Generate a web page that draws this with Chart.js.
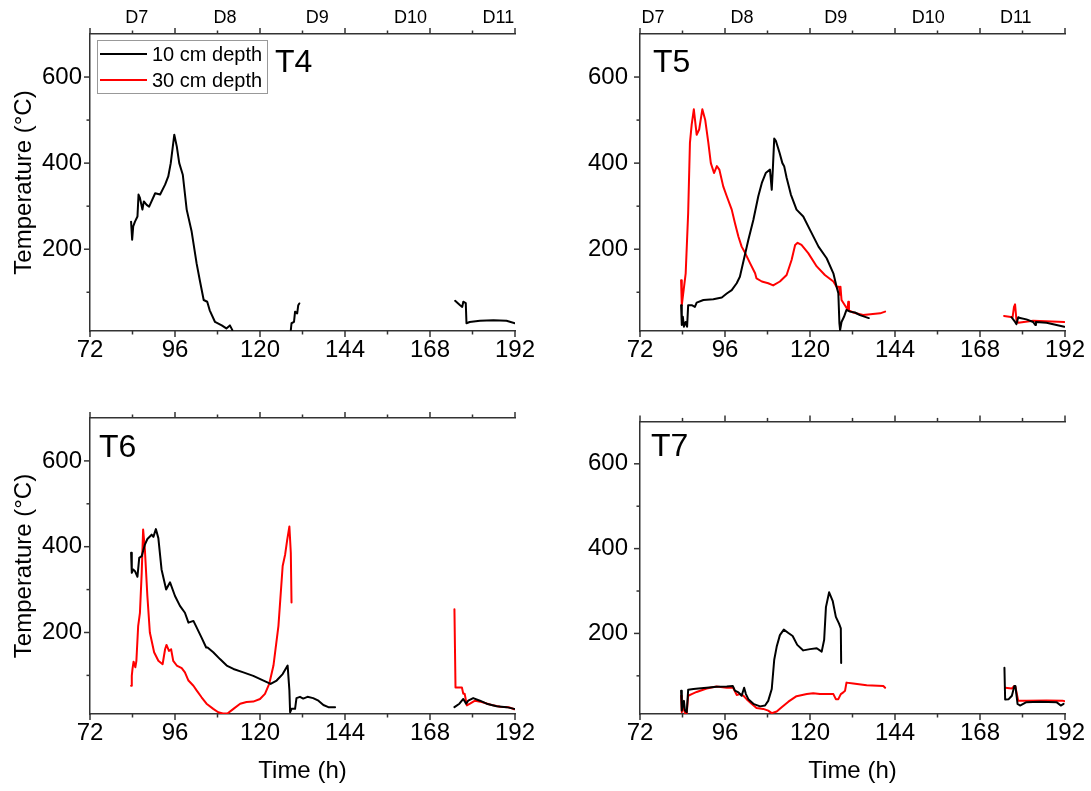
<!DOCTYPE html>
<html><head><meta charset="utf-8">
<script src="https://cdn.jsdelivr.net/npm/chart.js@4/dist/chart.umd.min.js"></script>
<style>
html,body{margin:0;padding:0;background:#fff;width:1091px;height:791px;overflow:hidden}
canvas{position:absolute}
</style></head><body>
<canvas id="c4" width="545" height="395" style="left:0;top:0;width:545px;height:395px"></canvas>
<canvas id="c5" width="546" height="395" style="left:545px;top:0;width:546px;height:395px"></canvas>
<canvas id="c6" width="545" height="396" style="left:0;top:395px;width:545px;height:396px"></canvas>
<canvas id="c7" width="546" height="396" style="left:545px;top:395px;width:546px;height:396px"></canvas>
<script>
// ---------- tick values ----------
const xMajorTicks = [72, 96, 120, 144, 168, 192];
const xMinorTicks = [84, 108, 132, 156, 180];
const yMajorTicks = [200, 400, 600];
const yMinorTicks = [100, 300, 500];
const dayLabels = ['D7', 'D8', 'D9', 'D10', 'D11'];
const dayPosT4 = [85.2, 110.1, 136.2, 162.5, 187.3];
const dayPosT5 = [75.7, 100.8, 127.3, 153.4, 178.1];
const seriesLabels = ['10 cm depth', '30 cm depth'];

// ---------- T4 ----------
const t4_10_time = [83.6, 83.9, 84.2, 84.7, 85.4, 85.7, 86.1, 86.8, 87.2, 88.0, 88.7, 90.4, 91.8, 93.2, 94.1, 94.8, 95.8, 96.5, 97.2, 98.2, 99.3, 100.7, 102.1, 103.0, 104.1, 105.1, 105.8, 107.3, 109.2, 110.5, 111.5, 112.2, 120, 128.7, 128.9, 129.6, 129.9, 130.5, 130.8, 131.1, 150, 175.1, 176.5, 177.1, 177.4, 178.1, 178.3, 179.2, 182.1, 185.9, 189.6, 192];
const t4_10_temp = [264, 222, 253, 264, 276, 327, 319, 292, 311, 303, 299, 330, 327, 350, 369, 400, 466, 439, 400, 373, 292, 241, 167, 128, 82, 78, 58, 31, 23, 16, 23, 12, null, 12, 28, 31, 55, 51, 70, 74, null, 80, 70, 66, 78, 75, 28, 31, 34, 35, 34, 28];
const t4_30_time = [];
const t4_30_temp = [];

// ---------- T5 ----------
const t5_10_time = [83.6, 83.8, 84.1, 84.4, 84.9, 85.3, 85.6, 86.6, 87.5, 88.0, 89.9, 92.7, 95.1, 96.5, 97.9, 99.3, 100.2, 101.4, 102.6, 104.0, 105.4, 106.4, 107.5, 108.7, 109.2, 109.5, 109.9, 110.4, 111.4, 112.2, 112.7, 113.4, 114.6, 116.2, 118.1, 120.0, 122.4, 124.7, 126.6, 127.5, 128.0, 128.3, 128.5, 128.9, 129.6, 130.3, 131.3, 132.7, 134.1, 136.6, 160, 176.9, 177.9, 178.3, 178.8, 179.3, 181.1, 183.0, 183.6, 183.8, 186.8, 189.6, 191.8];
const t5_10_temp = [70, 24, 43, 20, 31, 20, 70, 70, 66, 76, 82, 84, 88, 97, 105, 121, 136, 179, 222, 268, 323, 354, 377, 385, 338, 385, 457, 451, 424, 400, 393, 366, 327, 292, 276, 245, 206, 179, 144, 113, 98, 28, 12, 31, 43, 59, 55, 53, 47, 40, null, 42, 31, 26, 42, 40, 37, 31, 24, 31, 29, 24, 20];
const t5_30_time = [83.6, 83.8, 84.2, 84.9, 85.6, 86.1, 86.6, 87.2, 88.0, 88.7, 89.6, 90.4, 91.3, 92.0, 92.9, 93.7, 94.4, 95.5, 96.5, 97.9, 98.8, 99.8, 100.7, 101.7, 103.1, 104.5, 104.9, 106.4, 108.2, 109.6, 111.5, 113.4, 114.8, 115.8, 116.5, 117.6, 119.5, 121.9, 124.2, 126.6, 127.5, 128.2, 128.5, 128.6, 128.9, 130.6, 130.8, 131.0, 132.2, 135.0, 139.8, 141.2, 160, 174.8, 177.2, 177.6, 177.9, 178.3, 178.8, 183.0, 191.8];
const t5_30_temp = [128, 70, 97, 144, 284, 447, 490, 525, 466, 478, 525, 501, 447, 400, 377, 393, 385, 346, 323, 292, 261, 229, 206, 191, 167, 144, 132, 125, 121, 116, 125, 140, 175, 210, 215, 210, 191, 160, 140, 125, 113, 113, 94, 113, 82, 60, 78, 58, 53, 47, 51, 55, null, 45, 42, 66, 72, 35, 29, 34, 31];

// ---------- T6 ----------
const t6_10_time = [83.6, 83.8, 84.2, 84.7, 85.4, 85.9, 86.6, 87.5, 88.2, 89.4, 89.9, 90.6, 91.3, 92.2, 93.5, 94.6, 96.0, 97.4, 98.8, 99.8, 101.2, 102.1, 103.5, 104.8, 105.2, 106.8, 108.7, 110.6, 112.5, 115.3, 118.1, 121.0, 123.0, 124.7, 126.4, 127.8, 128.3, 128.5, 128.9, 129.9, 130.3, 131.3, 132.2, 133.4, 135.0, 136.5, 137.9, 139.3, 141.2, 160, 174.9, 176.3, 177.4, 178.2, 178.8, 180.2, 182.1, 184.0, 186.8, 189.6, 191.8];
const t6_10_temp = [386, 339, 347, 343, 330, 374, 378, 405, 418, 428, 423, 441, 420, 347, 300, 317, 285, 262, 246, 223, 227, 212, 188, 165, 165, 154, 138, 123, 115, 107, 99, 88, 80, 88, 103, 123, 65, 14, 22, 22, 47, 50, 46, 50, 47, 41, 31, 26, 26, null, 26, 34, 45, 34, 41, 47, 41, 34, 28, 26, 22];
const t6_30_time = [83.6, 83.8, 84.0, 84.3, 84.8, 85.1, 85.6, 86.1, 86.6, 87.0, 87.5, 88.2, 88.9, 90.1, 91.3, 92.5, 93.2, 93.6, 94.3, 94.9, 95.5, 96.5, 97.9, 98.8, 99.8, 101.2, 102.1, 103.5, 104.9, 106.8, 108.2, 109.5, 110.8, 112.5, 114.4, 116.2, 118.1, 120.0, 121.4, 122.6, 123.8, 125.2, 126.4, 127.1, 127.7, 128.3, 128.7, 128.9, 150, 174.9, 175.2, 177.0, 177.4, 177.8, 178.4, 179.3, 180.7, 182.6, 185.4, 187.8, 190.2, 191.8];
const t6_30_temp = [76, 99, 115, 132, 119, 134, 215, 246, 339, 440, 393, 285, 200, 154, 134, 126, 161, 171, 157, 161, 134, 123, 117, 107, 88, 76, 65, 49, 34, 22, 14, 11, 11, 22, 34, 38, 39, 45, 57, 80, 123, 215, 355, 382, 417, 447, 386, 270, null, 254, 72, 72, 57, 57, 30, 34, 41, 38, 31, 27, 26, 21];

// ---------- T7 ----------
const t7_10_time = [83.6, 83.8, 84.1, 84.4, 84.7, 85.2, 85.6, 87.1, 88.5, 90.8, 93.6, 96.5, 98.2, 98.8, 99.8, 100.7, 101.4, 101.9, 102.6, 104.0, 105.9, 107.3, 108.2, 109.2, 109.9, 110.6, 111.5, 112.6, 113.9, 115.1, 116.4, 118.1, 120.0, 121.9, 123.3, 124.0, 124.5, 125.4, 126.4, 127.3, 128.2, 128.7, 128.8, 150, 174.9, 175.1, 176.1, 177.0, 177.7, 178.0, 178.6, 179.3, 181.1, 184.9, 189.6, 190.8, 191.6];
const t7_10_temp = [65, 18, 30, 41, 18, 14, 67, 69, 70, 72, 74, 75, 76, 65, 61, 53, 72, 57, 45, 34, 28, 30, 41, 69, 138, 169, 196, 209, 201, 194, 173, 160, 163, 165, 157, 185, 262, 297, 277, 239, 223, 212, 130, null, 119, 44, 45, 53, 76, 76, 34, 30, 38, 39, 38, 30, 34];
const t7_30_time = [83.6, 83.8, 84.2, 84.7, 85.2, 85.6, 86.6, 88.0, 90.8, 93.6, 96.5, 98.3, 99.3, 100.2, 101.2, 102.1, 103.5, 104.9, 106.8, 108.2, 109.2, 110.6, 112.0, 113.9, 116.2, 119.1, 120.9, 122.8, 126.6, 127.3, 128.0, 128.7, 129.4, 129.9, 130.3, 132.2, 136.0, 140.7, 141.2, 150, 175.1, 177.0, 177.7, 178.0, 178.8, 181.1, 186.8, 191.5, 192];
const t7_30_temp = [53, 14, 30, 12, 12, 53, 57, 62, 70, 75, 72, 72, 55, 57, 53, 45, 34, 24, 22, 18, 12, 16, 26, 39, 52, 57, 59, 57, 57, 45, 45, 57, 61, 65, 84, 82, 78, 76, 72, null, 72, 70, 76, 74, 41, 41, 42, 41, 40];

// ---------- rendering ----------
const FONT = "'Liberation Sans', Arial, Helvetica, sans-serif";
Chart.defaults.font.family = FONT;
Chart.defaults.color = '#000';
const AXIS = '#333';

function pts(ts, vs) { return ts.map((t, i) => ({ x: t, y: vs[i] })); }

const framePlugin = {
  id: 'frame',
  afterDraw(chart) {
    const o = chart.options.plugins.frame;
    const { ctx, chartArea: a } = chart;
    const x = chart.scales.x, y = chart.scales.y;
    ctx.save();
    ctx.strokeStyle = AXIS; ctx.lineWidth = 1.5;
    const seg = (x1, y1, x2, y2) => { ctx.beginPath(); ctx.moveTo(x1, y1); ctx.lineTo(x2, y2); ctx.stroke(); };
    xMajorTicks.forEach(t => { const p = x.getPixelForValue(t); seg(p, a.bottom, p, a.bottom + 6); seg(p, a.top, p, a.top - 6); });
    xMinorTicks.forEach(t => { const p = x.getPixelForValue(t); seg(p, a.bottom, p, a.bottom + 3.5); seg(p, a.top, p, a.top - 3.5); });
    yMajorTicks.forEach(v => { const p = y.getPixelForValue(v); seg(a.left, p, a.left - 6, p); });
    yMinorTicks.forEach(v => { const p = y.getPixelForValue(v); seg(a.left, p, a.left - 3.5, p); });
    // panel label
    ctx.fillStyle = '#000';
    ctx.font = '32px ' + FONT;
    ctx.textBaseline = 'alphabetic'; ctx.textAlign = 'left';
    ctx.fillText(o.label, a.left + o.dx, a.top + o.dy);
    // legend
    if (o.legend) {
      const lx = a.left + 7, ly = a.top + 6;
      ctx.strokeStyle = '#999'; ctx.lineWidth = 1;
      ctx.strokeRect(lx + 0.5, ly + 0.5, 170, 53);
      ctx.font = '20px ' + FONT; ctx.textBaseline = 'middle';
      chart.data.datasets.forEach((ds, i) => {
        const yy = ly + 14 + i * 26;
        ctx.strokeStyle = ds.borderColor; ctx.lineWidth = 2;
        seg(lx + 3, yy, lx + 50, yy);
        ctx.fillStyle = '#000';
        ctx.fillText(ds.label, lx + 55, yy + 1);
      });
    }
    ctx.restore();
  }
};

function makeChart(id, cfg) {
  const yLeft = cfg.yW === 90;
  const lineStyle = { borderWidth: 2, pointRadius: 0, tension: 0, spanGaps: false, borderJoinStyle: 'round', borderCapStyle: 'round' };
  new Chart(document.getElementById(id), {
    type: 'line',
    data: {
      datasets: [
        Object.assign({ label: seriesLabels[0], data: pts(cfg.d10[0], cfg.d10[1]), borderColor: '#000000' }, lineStyle),
        Object.assign({ label: seriesLabels[1], data: pts(cfg.d30[0], cfg.d30[1]), borderColor: '#ff0000' }, lineStyle)
      ]
    },
    options: {
      responsive: false, animation: false, devicePixelRatio: 1, events: [],
      layout: { padding: { left: 0, right: cfg.rightPad, top: 0, bottom: 0 } },
      plugins: {
        legend: { display: false }, tooltip: { enabled: false },
        frame: { label: cfg.label, dx: cfg.dx, dy: cfg.dy, legend: cfg.legend }
      },
      scales: {
        x: {
          type: 'linear', position: 'bottom', min: 72, max: 192,
          afterBuildTicks: s => { s.ticks = xMajorTicks.map(v => ({ value: v })); },
          afterFit: s => { s.height = cfg.bottomH; },
          grid: { display: false, drawTicks: false },
          border: { display: true, color: AXIS, width: 1.5 },
          ticks: { autoSkip: false, maxRotation: 0, padding: 5, font: { size: 24 }, color: '#000' },
          title: { display: cfg.xTitle, text: 'Time (h)', font: { size: 24 }, color: '#000', padding: { top: 0, bottom: 5 } }
        },
        x2: {
          type: 'linear', position: 'top', min: 72, max: 192,
          afterBuildTicks: s => { s.ticks = (cfg.days || [100]).map(v => ({ value: v })); },
          afterFit: s => { s.height = cfg.topH; },
          grid: { display: false, drawTicks: false },
          border: { display: true, color: AXIS, width: 1.5 },
          ticks: { display: !!cfg.days, autoSkip: false, maxRotation: 0, padding: 5, font: { size: 18 }, color: '#000',
            callback: (v, i) => dayLabels[i] }
        },
        y: {
          type: 'linear', position: 'left', min: 10, max: 700,
          afterBuildTicks: s => { s.ticks = yMajorTicks.map(v => ({ value: v })); },
          afterFit: s => { s.width = cfg.yW; },
          grid: { display: false, drawTicks: false },
          border: { display: true, color: AXIS, width: 1.5 },
          ticks: { padding: yLeft ? 8 : 12, font: { size: 24 }, color: '#000' },
          title: { display: cfg.yTitle, text: 'Temperature (°C)', font: { size: 24 }, color: '#000', padding: { top: 10, bottom: 0 } }
        }
      }
    },
    plugins: [framePlugin]
  });
}

makeChart('c4', { yW: 90, rightPad: 30, topH: 34, bottomH: 64, yTitle: true, xTitle: false, days: dayPosT4, label: 'T4', dx: 185, dy: 38, legend: true,
  d10: [t4_10_time, t4_10_temp], d30: [t4_30_time, t4_30_temp] });
makeChart('c5', { yW: 95, rightPad: 26, topH: 34, bottomH: 64, yTitle: false, xTitle: false, days: dayPosT5, label: 'T5', dx: 13, dy: 38, legend: false,
  d10: [t5_10_time, t5_10_temp], d30: [t5_30_time, t5_30_temp] });
makeChart('c6', { yW: 90, rightPad: 30, topH: 23, bottomH: 77, yTitle: true, xTitle: true, days: null, label: 'T6', dx: 9, dy: 39, legend: false,
  d10: [t6_10_time, t6_10_temp], d30: [t6_30_time, t6_30_temp] });
makeChart('c7', { yW: 95, rightPad: 26, topH: 23, bottomH: 77, yTitle: false, xTitle: true, days: null, label: 'T7', dx: 11, dy: 35, legend: false,
  d10: [t7_10_time, t7_10_temp], d30: [t7_30_time, t7_30_temp] });
</script>
</body></html>
